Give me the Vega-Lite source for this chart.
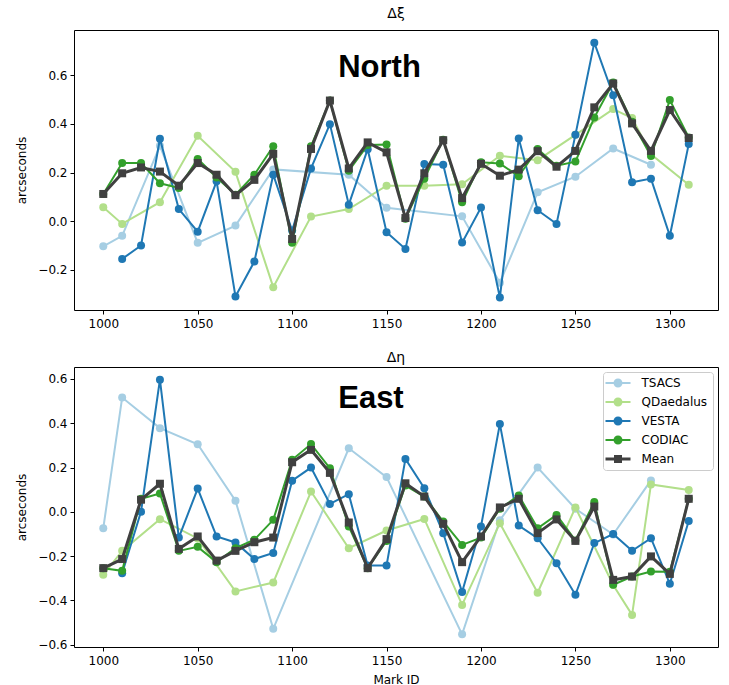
{
  "$schema": "https://vega.github.io/schema/vega-lite/v6.json",
  "background": "white",
  "padding": {"left": 15, "top": 6, "right": 9, "bottom": 2},
  "bounds": "flush",
  "spacing": 57,
  "datasets": {
    "xi": [
      {"s": "TSACS", "id": 1000, "v": -0.103}, {"s": "TSACS", "id": 1010, "v": -0.060}, {"s": "TSACS", "id": 1030, "v": 0.31}, {"s": "TSACS", "id": 1050, "v": -0.089}, {"s": "TSACS", "id": 1070, "v": -0.018}, {"s": "TSACS", "id": 1090, "v": 0.213}, {"s": "TSACS", "id": 1130, "v": 0.191}, {"s": "TSACS", "id": 1150, "v": 0.055}, {"s": "TSACS", "id": 1190, "v": 0.020}, {"s": "TSACS", "id": 1210, "v": -0.253}, {"s": "TSACS", "id": 1230, "v": 0.119}, {"s": "TSACS", "id": 1250, "v": 0.183}, {"s": "TSACS", "id": 1270, "v": 0.299}, {"s": "TSACS", "id": 1290, "v": 0.232},
      {"s": "QDaedalus", "id": 1000, "v": 0.057}, {"s": "QDaedalus", "id": 1010, "v": -0.011}, {"s": "QDaedalus", "id": 1030, "v": 0.078}, {"s": "QDaedalus", "id": 1050, "v": 0.351}, {"s": "QDaedalus", "id": 1070, "v": 0.203}, {"s": "QDaedalus", "id": 1090, "v": -0.271}, {"s": "QDaedalus", "id": 1110, "v": 0.019}, {"s": "QDaedalus", "id": 1130, "v": 0.050}, {"s": "QDaedalus", "id": 1150, "v": 0.146}, {"s": "QDaedalus", "id": 1170, "v": 0.146}, {"s": "QDaedalus", "id": 1190, "v": 0.152}, {"s": "QDaedalus", "id": 1210, "v": 0.269}, {"s": "QDaedalus", "id": 1230, "v": 0.251}, {"s": "QDaedalus", "id": 1250, "v": 0.355}, {"s": "QDaedalus", "id": 1270, "v": 0.461}, {"s": "QDaedalus", "id": 1280, "v": 0.424}, {"s": "QDaedalus", "id": 1290, "v": 0.275}, {"s": "QDaedalus", "id": 1310, "v": 0.150},
      {"s": "VESTA", "id": 1010, "v": -0.155}, {"s": "VESTA", "id": 1020, "v": -0.100}, {"s": "VESTA", "id": 1030, "v": 0.339}, {"s": "VESTA", "id": 1040, "v": 0.050}, {"s": "VESTA", "id": 1050, "v": -0.043}, {"s": "VESTA", "id": 1060, "v": 0.164}, {"s": "VESTA", "id": 1070, "v": -0.309}, {"s": "VESTA", "id": 1080, "v": -0.166}, {"s": "VESTA", "id": 1090, "v": 0.191}, {"s": "VESTA", "id": 1100, "v": -0.038}, {"s": "VESTA", "id": 1110, "v": 0.217}, {"s": "VESTA", "id": 1120, "v": 0.399}, {"s": "VESTA", "id": 1130, "v": 0.068}, {"s": "VESTA", "id": 1140, "v": 0.296}, {"s": "VESTA", "id": 1150, "v": -0.045}, {"s": "VESTA", "id": 1160, "v": -0.114}, {"s": "VESTA", "id": 1170, "v": 0.235}, {"s": "VESTA", "id": 1180, "v": 0.232}, {"s": "VESTA", "id": 1190, "v": -0.088}, {"s": "VESTA", "id": 1200, "v": 0.056}, {"s": "VESTA", "id": 1210, "v": -0.314}, {"s": "VESTA", "id": 1220, "v": 0.340}, {"s": "VESTA", "id": 1230, "v": 0.045}, {"s": "VESTA", "id": 1240, "v": -0.011}, {"s": "VESTA", "id": 1250, "v": 0.355}, {"s": "VESTA", "id": 1260, "v": 0.734}, {"s": "VESTA", "id": 1270, "v": 0.518}, {"s": "VESTA", "id": 1280, "v": 0.160}, {"s": "VESTA", "id": 1290, "v": 0.175}, {"s": "VESTA", "id": 1300, "v": -0.060}, {"s": "VESTA", "id": 1310, "v": 0.317},
      {"s": "CODIAC", "id": 1000, "v": 0.112}, {"s": "CODIAC", "id": 1010, "v": 0.239}, {"s": "CODIAC", "id": 1020, "v": 0.239}, {"s": "CODIAC", "id": 1030, "v": 0.156}, {"s": "CODIAC", "id": 1040, "v": 0.137}, {"s": "CODIAC", "id": 1050, "v": 0.256}, {"s": "CODIAC", "id": 1060, "v": 0.180}, {"s": "CODIAC", "id": 1070, "v": 0.109}, {"s": "CODIAC", "id": 1080, "v": 0.191}, {"s": "CODIAC", "id": 1090, "v": 0.308}, {"s": "CODIAC", "id": 1100, "v": -0.089}, {"s": "CODIAC", "id": 1110, "v": 0.308}, {"s": "CODIAC", "id": 1120, "v": 0.496}, {"s": "CODIAC", "id": 1130, "v": 0.207}, {"s": "CODIAC", "id": 1140, "v": 0.313}, {"s": "CODIAC", "id": 1150, "v": 0.315}, {"s": "CODIAC", "id": 1160, "v": 0.010}, {"s": "CODIAC", "id": 1170, "v": 0.175}, {"s": "CODIAC", "id": 1180, "v": 0.335}, {"s": "CODIAC", "id": 1190, "v": 0.078}, {"s": "CODIAC", "id": 1200, "v": 0.242}, {"s": "CODIAC", "id": 1210, "v": 0.237}, {"s": "CODIAC", "id": 1220, "v": 0.185}, {"s": "CODIAC", "id": 1230, "v": 0.297}, {"s": "CODIAC", "id": 1240, "v": 0.228}, {"s": "CODIAC", "id": 1250, "v": 0.245}, {"s": "CODIAC", "id": 1260, "v": 0.426}, {"s": "CODIAC", "id": 1270, "v": 0.570}, {"s": "CODIAC", "id": 1280, "v": 0.409}, {"s": "CODIAC", "id": 1290, "v": 0.268}, {"s": "CODIAC", "id": 1300, "v": 0.498}, {"s": "CODIAC", "id": 1310, "v": 0.344},
      {"s": "Mean", "id": 1000, "v": 0.112}, {"s": "Mean", "id": 1010, "v": 0.197}, {"s": "Mean", "id": 1020, "v": 0.221}, {"s": "Mean", "id": 1030, "v": 0.204}, {"s": "Mean", "id": 1040, "v": 0.146}, {"s": "Mean", "id": 1050, "v": 0.239}, {"s": "Mean", "id": 1060, "v": 0.191}, {"s": "Mean", "id": 1070, "v": 0.107}, {"s": "Mean", "id": 1080, "v": 0.170}, {"s": "Mean", "id": 1090, "v": 0.277}, {"s": "Mean", "id": 1100, "v": -0.073}, {"s": "Mean", "id": 1110, "v": 0.297}, {"s": "Mean", "id": 1120, "v": 0.496}, {"s": "Mean", "id": 1130, "v": 0.217}, {"s": "Mean", "id": 1140, "v": 0.324}, {"s": "Mean", "id": 1150, "v": 0.283}, {"s": "Mean", "id": 1160, "v": 0.013}, {"s": "Mean", "id": 1170, "v": 0.197}, {"s": "Mean", "id": 1180, "v": 0.333}, {"s": "Mean", "id": 1190, "v": 0.095}, {"s": "Mean", "id": 1200, "v": 0.236}, {"s": "Mean", "id": 1210, "v": 0.187}, {"s": "Mean", "id": 1220, "v": 0.212}, {"s": "Mean", "id": 1230, "v": 0.288}, {"s": "Mean", "id": 1240, "v": 0.224}, {"s": "Mean", "id": 1250, "v": 0.289}, {"s": "Mean", "id": 1260, "v": 0.468}, {"s": "Mean", "id": 1270, "v": 0.566}, {"s": "Mean", "id": 1280, "v": 0.402}, {"s": "Mean", "id": 1290, "v": 0.289}, {"s": "Mean", "id": 1300, "v": 0.457}, {"s": "Mean", "id": 1310, "v": 0.342}
    ],
    "eta": [
      {"s": "TSACS", "id": 1000, "v": -0.074}, {"s": "TSACS", "id": 1010, "v": 0.516}, {"s": "TSACS", "id": 1030, "v": 0.378}, {"s": "TSACS", "id": 1050, "v": 0.305}, {"s": "TSACS", "id": 1070, "v": 0.050}, {"s": "TSACS", "id": 1090, "v": -0.528}, {"s": "TSACS", "id": 1130, "v": 0.287}, {"s": "TSACS", "id": 1150, "v": 0.157}, {"s": "TSACS", "id": 1190, "v": -0.553}, {"s": "TSACS", "id": 1210, "v": -0.038}, {"s": "TSACS", "id": 1230, "v": 0.200}, {"s": "TSACS", "id": 1250, "v": 0.014}, {"s": "TSACS", "id": 1270, "v": -0.102}, {"s": "TSACS", "id": 1290, "v": 0.142},
      {"s": "QDaedalus", "id": 1000, "v": -0.284}, {"s": "QDaedalus", "id": 1010, "v": -0.176}, {"s": "QDaedalus", "id": 1030, "v": -0.033}, {"s": "QDaedalus", "id": 1050, "v": -0.12}, {"s": "QDaedalus", "id": 1070, "v": -0.359}, {"s": "QDaedalus", "id": 1090, "v": -0.319}, {"s": "QDaedalus", "id": 1110, "v": 0.092}, {"s": "QDaedalus", "id": 1130, "v": -0.164}, {"s": "QDaedalus", "id": 1150, "v": -0.084}, {"s": "QDaedalus", "id": 1170, "v": -0.032}, {"s": "QDaedalus", "id": 1190, "v": -0.420}, {"s": "QDaedalus", "id": 1210, "v": -0.051}, {"s": "QDaedalus", "id": 1230, "v": -0.365}, {"s": "QDaedalus", "id": 1250, "v": 0.020}, {"s": "QDaedalus", "id": 1270, "v": -0.33}, {"s": "QDaedalus", "id": 1280, "v": -0.465}, {"s": "QDaedalus", "id": 1290, "v": 0.124}, {"s": "QDaedalus", "id": 1310, "v": 0.099},
      {"s": "VESTA", "id": 1010, "v": -0.277}, {"s": "VESTA", "id": 1020, "v": 0.001}, {"s": "VESTA", "id": 1030, "v": 0.597}, {"s": "VESTA", "id": 1040, "v": -0.116}, {"s": "VESTA", "id": 1050, "v": 0.105}, {"s": "VESTA", "id": 1060, "v": -0.111}, {"s": "VESTA", "id": 1070, "v": -0.138}, {"s": "VESTA", "id": 1080, "v": -0.213}, {"s": "VESTA", "id": 1090, "v": -0.186}, {"s": "VESTA", "id": 1100, "v": 0.141}, {"s": "VESTA", "id": 1110, "v": 0.200}, {"s": "VESTA", "id": 1120, "v": 0.036}, {"s": "VESTA", "id": 1130, "v": 0.080}, {"s": "VESTA", "id": 1140, "v": -0.242}, {"s": "VESTA", "id": 1150, "v": -0.242}, {"s": "VESTA", "id": 1160, "v": 0.239}, {"s": "VESTA", "id": 1170, "v": 0.107}, {"s": "VESTA", "id": 1180, "v": -0.096}, {"s": "VESTA", "id": 1190, "v": -0.362}, {"s": "VESTA", "id": 1200, "v": -0.066}, {"s": "VESTA", "id": 1210, "v": 0.397}, {"s": "VESTA", "id": 1220, "v": -0.062}, {"s": "VESTA", "id": 1230, "v": -0.119}, {"s": "VESTA", "id": 1240, "v": -0.232}, {"s": "VESTA", "id": 1250, "v": -0.374}, {"s": "VESTA", "id": 1260, "v": -0.141}, {"s": "VESTA", "id": 1270, "v": -0.100}, {"s": "VESTA", "id": 1280, "v": -0.176}, {"s": "VESTA", "id": 1290, "v": -0.119}, {"s": "VESTA", "id": 1300, "v": -0.325}, {"s": "VESTA", "id": 1310, "v": -0.041},
      {"s": "CODIAC", "id": 1000, "v": -0.254}, {"s": "CODIAC", "id": 1010, "v": -0.266}, {"s": "CODIAC", "id": 1020, "v": 0.059}, {"s": "CODIAC", "id": 1030, "v": 0.083}, {"s": "CODIAC", "id": 1040, "v": -0.176}, {"s": "CODIAC", "id": 1050, "v": -0.158}, {"s": "CODIAC", "id": 1060, "v": -0.227}, {"s": "CODIAC", "id": 1070, "v": -0.164}, {"s": "CODIAC", "id": 1080, "v": -0.126}, {"s": "CODIAC", "id": 1090, "v": -0.036}, {"s": "CODIAC", "id": 1100, "v": 0.235}, {"s": "CODIAC", "id": 1110, "v": 0.306}, {"s": "CODIAC", "id": 1120, "v": 0.197}, {"s": "CODIAC", "id": 1130, "v": -0.066}, {"s": "CODIAC", "id": 1140, "v": -0.254}, {"s": "CODIAC", "id": 1150, "v": -0.131}, {"s": "CODIAC", "id": 1160, "v": 0.119}, {"s": "CODIAC", "id": 1170, "v": 0.069}, {"s": "CODIAC", "id": 1180, "v": -0.044}, {"s": "CODIAC", "id": 1190, "v": -0.149}, {"s": "CODIAC", "id": 1200, "v": -0.116}, {"s": "CODIAC", "id": 1210, "v": 0.014}, {"s": "CODIAC", "id": 1220, "v": 0.074}, {"s": "CODIAC", "id": 1230, "v": -0.074}, {"s": "CODIAC", "id": 1240, "v": -0.014}, {"s": "CODIAC", "id": 1250, "v": -0.129}, {"s": "CODIAC", "id": 1260, "v": 0.045}, {"s": "CODIAC", "id": 1270, "v": -0.329}, {"s": "CODIAC", "id": 1280, "v": -0.292}, {"s": "CODIAC", "id": 1290, "v": -0.269}, {"s": "CODIAC", "id": 1300, "v": -0.270}, {"s": "CODIAC", "id": 1310, "v": 0.059},
      {"s": "Mean", "id": 1000, "v": -0.254}, {"s": "Mean", "id": 1010, "v": -0.213}, {"s": "Mean", "id": 1020, "v": 0.055}, {"s": "Mean", "id": 1030, "v": 0.127}, {"s": "Mean", "id": 1040, "v": -0.167}, {"s": "Mean", "id": 1050, "v": -0.111}, {"s": "Mean", "id": 1060, "v": -0.220}, {"s": "Mean", "id": 1070, "v": -0.176}, {"s": "Mean", "id": 1080, "v": -0.137}, {"s": "Mean", "id": 1090, "v": -0.116}, {"s": "Mean", "id": 1100, "v": 0.224}, {"s": "Mean", "id": 1110, "v": 0.280}, {"s": "Mean", "id": 1120, "v": 0.176}, {"s": "Mean", "id": 1130, "v": -0.048}, {"s": "Mean", "id": 1140, "v": -0.254}, {"s": "Mean", "id": 1150, "v": -0.123}, {"s": "Mean", "id": 1160, "v": 0.129}, {"s": "Mean", "id": 1170, "v": 0.069}, {"s": "Mean", "id": 1180, "v": -0.054}, {"s": "Mean", "id": 1190, "v": -0.227}, {"s": "Mean", "id": 1200, "v": -0.111}, {"s": "Mean", "id": 1210, "v": 0.020}, {"s": "Mean", "id": 1220, "v": 0.059}, {"s": "Mean", "id": 1230, "v": -0.096}, {"s": "Mean", "id": 1240, "v": -0.034}, {"s": "Mean", "id": 1250, "v": -0.131}, {"s": "Mean", "id": 1260, "v": 0.024}, {"s": "Mean", "id": 1270, "v": -0.307}, {"s": "Mean", "id": 1280, "v": -0.292}, {"s": "Mean", "id": 1290, "v": -0.201}, {"s": "Mean", "id": 1300, "v": -0.280}, {"s": "Mean", "id": 1310, "v": 0.059}
    ],
    "one": [{"k": 1}]
  },
  "resolve": {"scale": {"color": "independent"}, "legend": {"color": "independent"}},
  "vconcat": [
    {
      "width": 644,
      "height": 280,
      "title": {"text": "Δξ", "fontSize": 14, "fontWeight": "normal", "font": "DejaVu Sans", "offset": 9.5, "color": "#000"},
      "layer": [
        {
          "data": {"name": "xi"},
          "encoding": {
            "x": {"field": "id", "type": "quantitative", "scale": {"domain": [984.5, 1325.5], "nice": false, "zero": false}, "axis": {"values": [1000, 1050, 1100, 1150, 1200, 1250, 1300], "format": "d", "title": null, "labelPadding": 4}},
            "y": {"field": "v", "type": "quantitative", "scale": {"domain": [-0.365, 0.786], "nice": false, "zero": false}, "axis": {"values": [-0.2, 0, 0.2, 0.4, 0.6], "labelExpr": "replace(format(datum.value, '.1f'), '-', '−')", "title": "arcseconds"}},
            "color": {"field": "s", "type": "nominal", "scale": {"domain": ["TSACS", "QDaedalus", "VESTA", "CODIAC", "Mean"], "range": ["#a6cee3", "#b2df8a", "#1f78b4", "#33a02c", "#404040"]}, "legend": null}
          },
          "layer": [
            {"transform": [{"filter": "datum.s === 'TSACS'"}], "mark": {"type": "line", "strokeWidth": 2, "point": {"filled": true, "size": 64, "opacity": 1}}},
            {"transform": [{"filter": "datum.s === 'QDaedalus'"}], "mark": {"type": "line", "strokeWidth": 2, "point": {"filled": true, "size": 64, "opacity": 1}}},
            {"transform": [{"filter": "datum.s === 'VESTA'"}], "mark": {"type": "line", "strokeWidth": 2, "point": {"filled": true, "size": 64, "opacity": 1}}},
            {"transform": [{"filter": "datum.s === 'CODIAC'"}], "mark": {"type": "line", "strokeWidth": 2, "point": {"filled": true, "size": 64, "opacity": 1}}},
            {"transform": [{"filter": "datum.s === 'Mean'"}], "mark": {"type": "line", "strokeWidth": 3, "point": {"filled": true, "size": 64, "shape": "square", "opacity": 1}}}
          ]
        },
        {
          "data": {"name": "one"},
          "mark": {"type": "text", "text": "North", "font": "Liberation Sans", "fontSize": 31, "fontWeight": "bold", "align": "left", "baseline": "alphabetic", "fill": "#000"},
          "encoding": {"x": {"datum": 1124.4}, "y": {"datum": 0.591}}
        }
      ]
    },
    {
      "width": 644,
      "height": 280,
      "title": {"text": "Δη", "fontSize": 14, "fontWeight": "normal", "font": "DejaVu Sans", "offset": 2.5, "color": "#000"},
      "layer": [
        {
          "data": {"name": "eta"},
          "encoding": {
            "x": {"field": "id", "type": "quantitative", "scale": {"domain": [984.5, 1325.5], "nice": false, "zero": false}, "axis": {"values": [1000, 1050, 1100, 1150, 1200, 1250, 1300], "format": "d", "title": "Mark ID", "titlePadding": 8, "labelPadding": 4}},
            "y": {"field": "v", "type": "quantitative", "scale": {"domain": [-0.61, 0.654], "nice": false, "zero": false}, "axis": {"values": [-0.6, -0.4, -0.2, 0, 0.2, 0.4, 0.6], "labelExpr": "replace(format(datum.value, '.1f'), '-', '−')", "title": "arcseconds"}},
            "color": {"field": "s", "type": "nominal", "scale": {"domain": ["TSACS", "QDaedalus", "VESTA", "CODIAC", "Mean"], "range": ["#a6cee3", "#b2df8a", "#1f78b4", "#33a02c", "#404040"]},
              "legend": {
                "orient": "top-right", "offset": 5, "title": null,
                "labelFont": "DejaVu Sans", "labelFontSize": 12, "labelColor": "#000",
                "strokeColor": "#cccccc", "fillColor": "rgba(255,255,255,0.85)", "cornerRadius": 3, "padding": 5,
                "symbolSize": 100, "symbolOffset": 4, "labelOffset": 17.5, "rowPadding": 7,
                "encode": {"symbols": {"update": {
                  "shape": {"signal": "datum.value === 'Mean' ? 'M-2.5,-0.3L2.5,-0.3L2.5,0.3L-2.5,0.3Z M-0.8,-0.8L0.8,-0.8L0.8,0.8L-0.8,0.8Z' : 'M-2.5,-0.2L2.5,-0.2L2.5,0.2L-2.5,0.2Z M0.9,0A0.9,0.9 0 1,1 -0.9,0A0.9,0.9 0 1,1 0.9,0Z'"},
                  "fill": {"signal": "datum.value === 'TSACS' ? '#a6cee3' : datum.value === 'QDaedalus' ? '#b2df8a' : datum.value === 'VESTA' ? '#1f78b4' : datum.value === 'CODIAC' ? '#33a02c' : '#404040'"},
                  "stroke": {"value": "transparent"},
                  "strokeWidth": {"value": 0},
                  "opacity": {"value": 1}
                }}}
              }
            }
          },
          "layer": [
            {"transform": [{"filter": "datum.s === 'TSACS'"}], "mark": {"type": "line", "strokeWidth": 2, "point": {"filled": true, "size": 64, "opacity": 1}}},
            {"transform": [{"filter": "datum.s === 'QDaedalus'"}], "mark": {"type": "line", "strokeWidth": 2, "point": {"filled": true, "size": 64, "opacity": 1}}},
            {"transform": [{"filter": "datum.s === 'VESTA'"}], "mark": {"type": "line", "strokeWidth": 2, "point": {"filled": true, "size": 64, "opacity": 1}}},
            {"transform": [{"filter": "datum.s === 'CODIAC'"}], "mark": {"type": "line", "strokeWidth": 2, "point": {"filled": true, "size": 64, "opacity": 1}}},
            {"transform": [{"filter": "datum.s === 'Mean'"}], "mark": {"type": "line", "strokeWidth": 3, "point": {"filled": true, "size": 64, "shape": "square", "opacity": 1}}}
          ]
        },
        {
          "data": {"name": "one"},
          "mark": {"type": "text", "text": "East", "font": "Liberation Sans", "fontSize": 31, "fontWeight": "bold", "align": "left", "baseline": "alphabetic", "fill": "#000"},
          "encoding": {"x": {"datum": 1124.4}, "y": {"datum": 0.468}}
        }
      ]
    }
  ],
  "config": {
    "view": {"stroke": "#000000", "strokeWidth": 1},
    "axis": {"domain": false, "grid": false, "labelFont": "DejaVu Sans", "labelFontSize": 12, "labelColor": "#000", "tickColor": "#000", "tickSize": 4, "labelPadding": 3, "titleFont": "DejaVu Sans", "titleFontSize": 12, "titleFontWeight": "normal", "titleColor": "#000"},
    "axisY": {"titlePadding": 9},
    "axisX": {"labelFlush": false}
  }
}
